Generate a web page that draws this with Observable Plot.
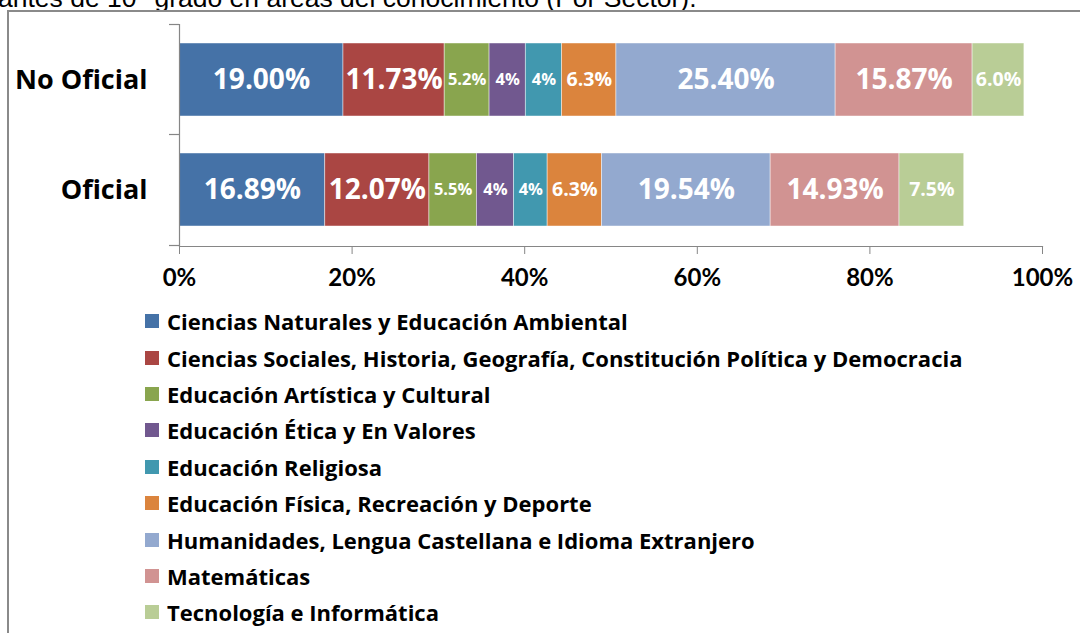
<!DOCTYPE html>
<html>
<head>
<meta charset="utf-8">
<script src="https://cdn.jsdelivr.net/npm/d3@7"></script>
<script src="https://cdn.jsdelivr.net/npm/@observablehq/plot@0.6"></script>
<style>
  html, body { margin: 0; padding: 0; background: #fff; }
  #wrap { position: relative; width: 1080px; height: 633px; overflow: hidden; background: #fff; }
  #title { position: absolute; left: -2px; top: -15px; font-family: "Liberation Sans", Arial, sans-serif; font-size: 26.5px; line-height: 26.5px; color: #000; white-space: nowrap; }
  #frame { position: absolute; left: 7px; top: 10px; width: 1200px; height: 800px; border: 2px solid #8a8a8a; box-sizing: border-box; }
  #chart { position: absolute; left: 0; top: 0; }
  #legend { position: absolute; left: 145px; top: 303px; font-family: "Open Sans", Lato, sans-serif; font-weight: bold; font-size: 22px; color: #000; }
  .item { height: 36.4px; display: flex; align-items: center; white-space: nowrap; }
  .sw { width: 14px; height: 14px; margin-right: 8px; flex: none; }
</style>
</head>
<body>
<div id="wrap">
  <div id="title"></div>
  <div id="frame"></div>
  <div id="chart"></div>
  <div id="legend"></div>
</div>
<script>
// ---- data ----
const titleText = "antes de 10° grado en áreas del conocimiento (Por Sector).";
const sectors = ["No Oficial", "Oficial"];
const areas = [
  "Ciencias Naturales y Educación Ambiental",
  "Ciencias Sociales, Historia, Geografía, Constitución Política y Democracia",
  "Educación Artística y Cultural",
  "Educación Ética y En Valores",
  "Educación Religiosa",
  "Educación Física, Recreación y Deporte",
  "Humanidades, Lengua Castellana e Idioma Extranjero",
  "Matemáticas",
  "Tecnología e Informática"
];
const noOficial = [19.00, 11.73, 5.2, 4.2, 4.2, 6.3, 25.40, 15.87, 6.0];
const oficial   = [16.89, 12.07, 5.5, 4.3, 3.9, 6.3, 19.54, 14.93, 7.5];
const labelDecimals = [2, 2, 1, 0, 0, 1, 2, 2, 1];
const colors = ["#4572A7", "#AA4643", "#89A54E", "#71588F", "#4198AF", "#DB843D", "#93A9CF", "#D19392", "#B9CD96"];
const xTicks = [0, 0.2, 0.4, 0.6, 0.8, 1.0];

// ---- table ----
const seriesBySector = {"No Oficial": noOficial, "Oficial": oficial};
const table = [];
sectors.forEach(s => areas.forEach((a, i) => table.push({
  sector: s, area: a, value: seriesBySector[s][i] / 100,
  label: seriesBySector[s][i].toFixed(labelDecimals[i]) + "%"
})));

document.getElementById("title").textContent = titleText;

const W = 1080, H = 300, mt = 24, mb = 54, ml = 179, mr = 38;
const step = (H - mt - mb) / sectors.length;
const axisGray = "#868686";
const sizeFor = d => d.value >= 0.10 ? 28 : d.value >= 0.06 ? 19.5 : 16.5;

const plot = Plot.plot({
  width: W, height: H,
  marginLeft: ml, marginRight: mr, marginTop: mt, marginBottom: mb,
  style: {fontFamily: "Lato, 'Open Sans', sans-serif", background: "transparent", overflow: "visible"},
  x: {domain: [0, 1]},
  y: {domain: sectors, paddingInner: 0.333, paddingOuter: 0.1667},
  color: {domain: areas, range: colors},
  marks: [
    Plot.barX(table, {x: "value", y: "sector", fill: "area", stroke: "#ffffff", strokeOpacity: 0.6, strokeWidth: 0.75}),
    Plot.text(table, Plot.stackX({x: "value", y: "sector", text: "label", fill: "white", fontWeight: "bold", fontFamily: "'Open Sans', Lato, sans-serif", fontSize: sizeFor})),
    Plot.ruleX([0], {stroke: axisGray, strokeWidth: 1.2}),
    Plot.frame({anchor: "bottom", stroke: axisGray, strokeWidth: 1.2}),
    Plot.ruleY(sectors, {y: d => d, x1: 0, x2: 0, insetLeft: -10, insetRight: 0, dy: -step / 2, stroke: axisGray, strokeWidth: 1.2}),
    Plot.ruleY(sectors.slice(-1), {y: d => d, x1: 0, x2: 0, insetLeft: -10, insetRight: 0, dy: step / 2, stroke: axisGray, strokeWidth: 1.2}),
    Plot.axisY({tickSize: 0, tickPadding: 32, fontSize: 27, fontWeight: "bold", fontFamily: "'Open Sans', Lato, sans-serif", label: null, fill: "black"}),
    Plot.axisX({ticks: xTicks, tickFormat: d3.format(".0%"), tickSize: 8, tickPadding: 14, fontSize: 24, fontWeight: "bold", label: null, stroke: axisGray, fill: "black"})
  ]
});
document.getElementById("chart").appendChild(plot);

// ---- legend ----
const legend = document.getElementById("legend");
areas.forEach((a, i) => {
  const row = document.createElement("div");
  row.className = "item";
  const sw = document.createElement("span");
  sw.className = "sw";
  sw.style.background = colors[i];
  const t = document.createElement("span");
  t.textContent = a;
  row.appendChild(sw); row.appendChild(t);
  legend.appendChild(row);
});
</script>
</body>
</html>
